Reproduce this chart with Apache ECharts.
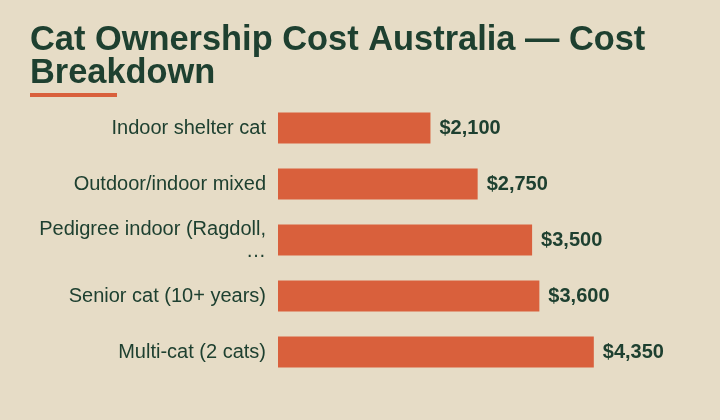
<!DOCTYPE html>
<html>
<head>
<meta charset="utf-8">
<script src="https://cdn.jsdelivr.net/npm/echarts@6/dist/echarts.min.js"></script>
<style>
  html, body { margin: 0; padding: 0; background: #e6dcc6; }
  #chart { width: 720px; height: 420px; }
</style>
</head>
<body>
<div id="chart"></div>
<script>
// data
var categories = ['Indoor shelter cat', 'Outdoor/indoor mixed', 'Pedigree indoor (Ragdoll, …', 'Senior cat (10+ years)', 'Multi-cat (2 cats)'];
var costs = [2100, 2750, 3500, 3600, 4350];

var ink = '#1e4030';
var rust = '#d9603c';

var chart = echarts.init(document.getElementById('chart'));
chart.setOption({
  backgroundColor: '#e6dcc6',
  animation: false,
  title: {
    text: 'Cat Ownership Cost Australia — Cost Breakdown',
    left: 30,
    top: 24,
    padding: 0,
    textStyle: {
      fontFamily: 'Liberation Sans',
      fontSize: 34.4,
      fontWeight: 'bold',
      color: ink,
      lineHeight: 33,
      width: 690,
      overflow: 'break'
    }
  },
  graphic: [
    { type: 'rect', left: 30, top: 93, shape: { width: 87, height: 4 }, style: { fill: rust } }
  ],
  grid: { left: 278, right: 79, top: 100, height: 280 },
  xAxis: {
    type: 'value',
    min: 0,
    max: 5000,
    show: false
  },
  yAxis: {
    type: 'category',
    inverse: true,
    data: categories,
    axisLine: { show: false },
    axisTick: { show: false },
    axisLabel: {
      margin: 12,
      fontFamily: 'Liberation Sans',
      fontSize: 20,
      color: ink,
      lineHeight: 22,
      align: 'right',
      formatter: function (v) { return v.replace(', …', ',\n…'); }
    }
  },
  series: [{
    type: 'bar',
    data: costs,
    barWidth: 31,
    itemStyle: { color: rust },
    label: {
      show: true,
      position: 'right',
      distance: 9,
      fontFamily: 'Liberation Sans',
      fontSize: 20,
      fontWeight: 'bold',
      color: ink,
      formatter: function (p) { return '$' + p.value.toLocaleString('en-US'); }
    }
  }]
});
</script>
</body>
</html>
